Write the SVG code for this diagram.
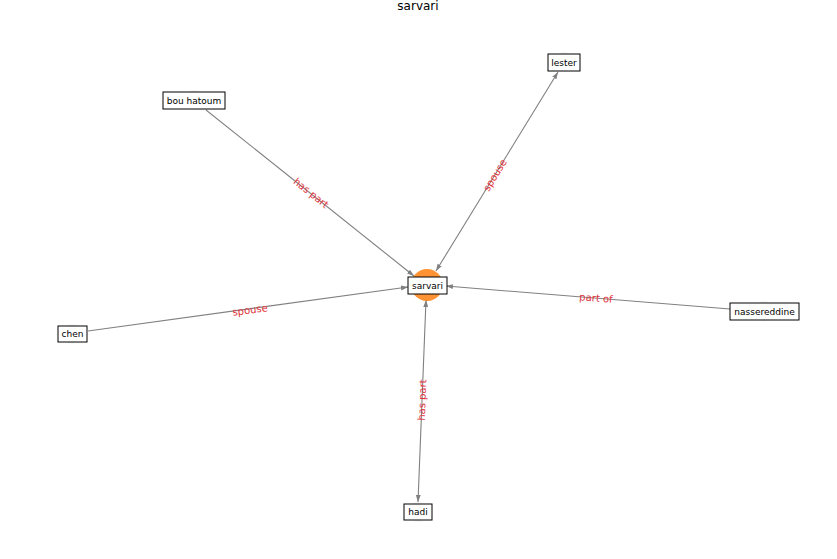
<svg xmlns="http://www.w3.org/2000/svg" width="837" height="559" viewBox="0 0 837 559">
<defs>
<style>
.bg{fill:#eeeeee;opacity:0.6}
.box{fill:#ffffff;stroke:#000000;stroke-width:1}
.lbl{font-family:"DejaVu Sans",sans-serif;font-size:9px;fill:#000000;text-anchor:middle;dominant-baseline:central}
.edge{stroke:#808080;stroke-width:1.1;fill:none}
.elbl{font-family:"DejaVu Sans",sans-serif;font-size:10px;fill:#e0343c;text-anchor:middle;dominant-baseline:central}
.title{font-family:"DejaVu Sans",sans-serif;font-size:12px;fill:#000000;text-anchor:middle}
</style>
<marker id="arr" viewBox="0 0 10 10" refX="10" refY="5" markerWidth="7" markerHeight="7" markerUnits="userSpaceOnUse" orient="auto-start-reverse">
<path d="M0,1.5 L10,5 L0,8.5 z" fill="#808080"/>
</marker>
</defs>
<rect width="837" height="559" fill="#ffffff"/>
<text class="title" x="418" y="10">sarvari</text>
<g id="connectors">
<line class="edge" x1="436" y1="271" x2="558" y2="72" marker-start="url(#arr)" marker-end="url(#arr)"/>
<line class="edge" x1="206" y1="110" x2="414" y2="276" marker-end="url(#arr)"/>
<line class="edge" x1="88" y1="331" x2="408" y2="287" marker-end="url(#arr)"/>
<line class="edge" x1="730" y1="309" x2="446" y2="286" marker-end="url(#arr)"/>
<line class="edge" x1="426" y1="300" x2="418" y2="502" marker-start="url(#arr)" marker-end="url(#arr)"/>
<text class="elbl" transform="translate(495,175) rotate(-58.5)">spouse</text>
<text class="elbl" transform="translate(311,193) rotate(38.6)">has part</text>
<text class="elbl" transform="translate(250,310) rotate(-7.8)">spouse</text>
<text class="elbl" transform="translate(596,298) rotate(4.6)">part of</text>
<text class="elbl" transform="translate(422,400) rotate(-87.7)">has part</text>
</g>
<g id="node-sarvari">
<circle cx="427" cy="285" r="16" fill="#ff7f0e" opacity="0.85"/>
<rect class="box" x="408" y="277" width="39" height="17"/>
<text class="lbl" x="427.5" y="285.5">sarvari</text>
</g>
<g id="node-lester">
<circle class="bg" cx="564" cy="62" r="10"/>
<rect class="box" x="548" y="54" width="32" height="17"/>
<text class="lbl" x="564" y="62.5">lester</text>
</g>
<g id="node-bou-hatoum">
<circle class="bg" cx="194" cy="100" r="10"/>
<rect class="box" x="163" y="92" width="62" height="17"/>
<text class="lbl" x="194" y="100.5">bou hatoum</text>
</g>
<g id="node-chen">
<circle class="bg" cx="72" cy="334" r="10"/>
<rect class="box" x="58" y="326" width="29" height="16"/>
<text class="lbl" x="72.5" y="334">chen</text>
</g>
<g id="node-nassereddine">
<circle class="bg" cx="764" cy="311" r="10"/>
<rect class="box" x="730" y="303" width="69" height="17"/>
<text class="lbl" x="764.5" y="311.5">nassereddine</text>
</g>
<g id="node-hadi">
<circle class="bg" cx="418" cy="512" r="10"/>
<rect class="box" x="404" y="504" width="28" height="16"/>
<text class="lbl" x="418" y="512">hadi</text>
</g>
</svg>
